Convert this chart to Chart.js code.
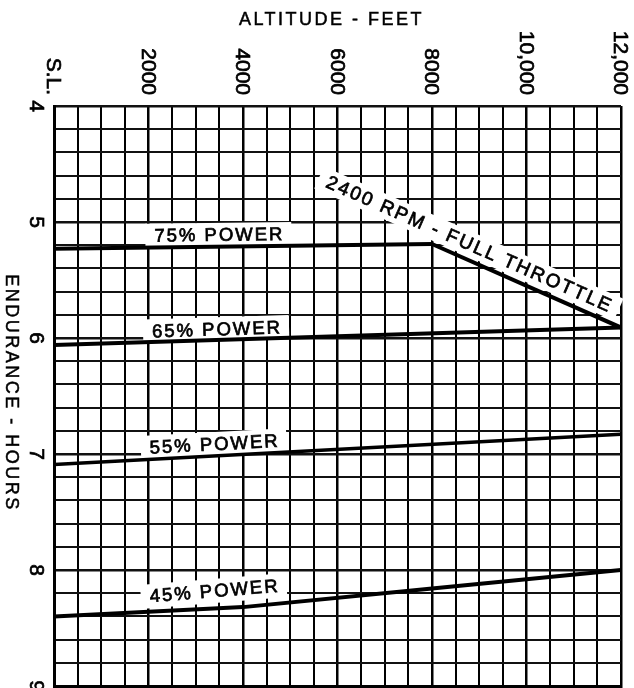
<!DOCTYPE html>
<html>
<head>
<meta charset="utf-8">
<script src="https://cdn.jsdelivr.net/npm/chart.js@4.4.0/dist/chart.umd.min.js"></script>
<style>
html,body{margin:0;padding:0;background:#fff;}
#wrap{width:634px;height:688px;position:relative;}
</style>
</head>
<body>
<div id="wrap"><canvas id="myChart"></canvas></div>
<script>
// axis ticks
const altTicks=[0,2000,4000,6000,8000,10000,12000];
const altLabels=['S.L.','2000','4000','6000','8000','10,000','12,000'];
const hourTicks=[4,5,6,7,8,9];

// curves (altitude ft -> endurance hours)
const alt75=[0,8000];
const end75=[5.23,5.19];
const altFT=[8000,12000];
const endFT=[5.19,5.91];
const alt65=[0,12000];
const end65=[6.06,5.91];
const alt55=[0,12000];
const end55=[7.09,6.83];
const alt45=[0,4000,8000,12000];
const end45=[8.40,8.32,8.16,8.00];

const curveNames=['75% POWER','65% POWER','55% POWER','45% POWER'];
const ftName='2400 RPM - FULL THROTTLE';

function pts(xs,ys){
  return xs.map((v,i)=>({x:v,y:ys[i]}));
}

const FONT='"Liberation Sans", Arial, Helvetica, sans-serif';

// where each curve name sits (data coords)
const labelAnchors=[[3500,5.11],[3450,5.925],[3400,6.915],[3400,8.18]];
const ftAnchor=[8800,5.19];

function slopeAngle(chart,xs,ys){
  const x=chart.scales.x, y=chart.scales.y;
  const n=xs.length-1;
  const dx=x.getPixelForValue(xs[n])-x.getPixelForValue(xs[0]);
  const dy=y.getPixelForValue(ys[n])-y.getPixelForValue(ys[0]);
  return Math.atan2(dy,dx);
}

// fill + thin stroke so the type looks like the printed original
function inkText(ctx,t,px,py){
  ctx.fillText(t,px,py);
  ctx.strokeText(t,px,py);
}

function boxedText(ctx,text,px,py,ang){
  ctx.save();
  ctx.translate(px,py);
  ctx.rotate(ang);
  const w=ctx.measureText(text).width;
  ctx.fillStyle='#fff';
  ctx.fillRect(-w/2-9,-12,w+16,24);
  ctx.fillStyle='#000';
  ctx.textAlign='center';
  ctx.textBaseline='middle';
  inkText(ctx,text,0,1);
  ctx.restore();
}

const paperText={
  id:'paperText',
  beforeDatasetsDraw(chart){
    const ctx=chart.ctx;
    const x=chart.scales.x, y=chart.scales.y;
    ctx.save();
    ctx.strokeStyle='#000';
    ctx.lineWidth=0.7;
    ctx.font='18.5px '+FONT;
    ctx.letterSpacing='2px';
    const sets=[[alt75,end75],[alt65,end65],[alt55,end55],[alt45,end45]];
    curveNames.forEach((t,i)=>{
      const a=labelAnchors[i];
      const ang=slopeAngle(chart,sets[i][0],sets[i][1]);
      boxedText(ctx,t,x.getPixelForValue(a[0]),y.getPixelForValue(a[1]),ang);
    });
    ctx.font='19px '+FONT;
    ctx.letterSpacing='2.2px';
    const angFT=slopeAngle(chart,altFT,endFT);
    boxedText(ctx,ftName,x.getPixelForValue(ftAnchor[0]),y.getPixelForValue(ftAnchor[1]),angFT);
    ctx.restore();
  },
  afterDraw(chart){
    const ctx=chart.ctx;
    const x=chart.scales.x, y=chart.scales.y;
    const area=chart.chartArea;
    ctx.save();
    ctx.fillStyle='#000';
    ctx.strokeStyle='#000';
    ctx.lineWidth=0.7;
    // altitude tick labels, turned clockwise
    ctx.font='21px '+FONT;
    altTicks.forEach((v,i)=>{
      ctx.save();
      ctx.translate(x.getPixelForValue(v)-1,area.top-11);
      ctx.rotate(Math.PI/2);
      ctx.textAlign='right';
      ctx.textBaseline='middle';
      inkText(ctx,altLabels[i],0,0);
      ctx.restore();
    });
    // hour tick labels, turned clockwise
    hourTicks.forEach(v=>{
      ctx.save();
      ctx.translate(area.left-18,y.getPixelForValue(v));
      ctx.rotate(Math.PI/2);
      ctx.textAlign='center';
      ctx.textBaseline='middle';
      inkText(ctx,String(v),0,0);
      ctx.restore();
    });
    // axis titles
    ctx.font='18px '+FONT;
    ctx.letterSpacing='2.5px';
    ctx.lineWidth=0.5;
    ctx.textAlign='center';
    ctx.textBaseline='alphabetic';
    inkText(ctx,'ALTITUDE - FEET',(area.left+area.right)/2-6,25);
    ctx.save();
    ctx.translate(11,(area.top+area.bottom)/2-3);
    ctx.rotate(Math.PI/2);
    ctx.textBaseline='middle';
    inkText(ctx,'ENDURANCE - HOURS',0,0);
    ctx.restore();
    ctx.restore();
  }
};

function lineSet(xs,ys,w){
  return {data:pts(xs,ys),borderColor:'#000',borderWidth:w,pointRadius:0,tension:0,fill:false};
}

const ctx=document.getElementById('myChart').getContext('2d');
const myChart=new Chart(ctx,{
  type:'line',
  data:{
    datasets:[
      lineSet(alt75,end75,4),
      lineSet(altFT,endFT,4),
      lineSet(alt65,end65,4),
      lineSet(alt55,end55,3.5),
      lineSet(alt45,end45,4)
    ]
  },
  options:{
    responsive:true,
    maintainAspectRatio:false,
    animation:false,
    layout:{padding:{left:54,top:106,right:13,bottom:2}},
    plugins:{legend:{display:false},tooltip:{enabled:false}},
    scales:{
      x:{
        type:'linear',
        min:0,max:12000,
        ticks:{display:false,stepSize:500},
        grid:{
          drawTicks:false,
          color:'#000',
          lineWidth:c=>(c.tick&&c.tick.value%2000===0)?2.5:2
        },
        border:{color:'#000',width:3}
      },
      y:{
        type:'linear',
        min:4,max:9,reverse:true,
        ticks:{display:false,stepSize:0.2},
        grid:{
          drawTicks:false,
          color:'#111',
          lineWidth:c=>{
            const v=c.tick?c.tick.value:0;
            return Math.abs(v-Math.round(v))<1e-6?2.5:2;
          }
        },
        border:{color:'#000',width:3}
      }
    }
  },
  plugins:[paperText]
});
</script>
</body>
</html>
